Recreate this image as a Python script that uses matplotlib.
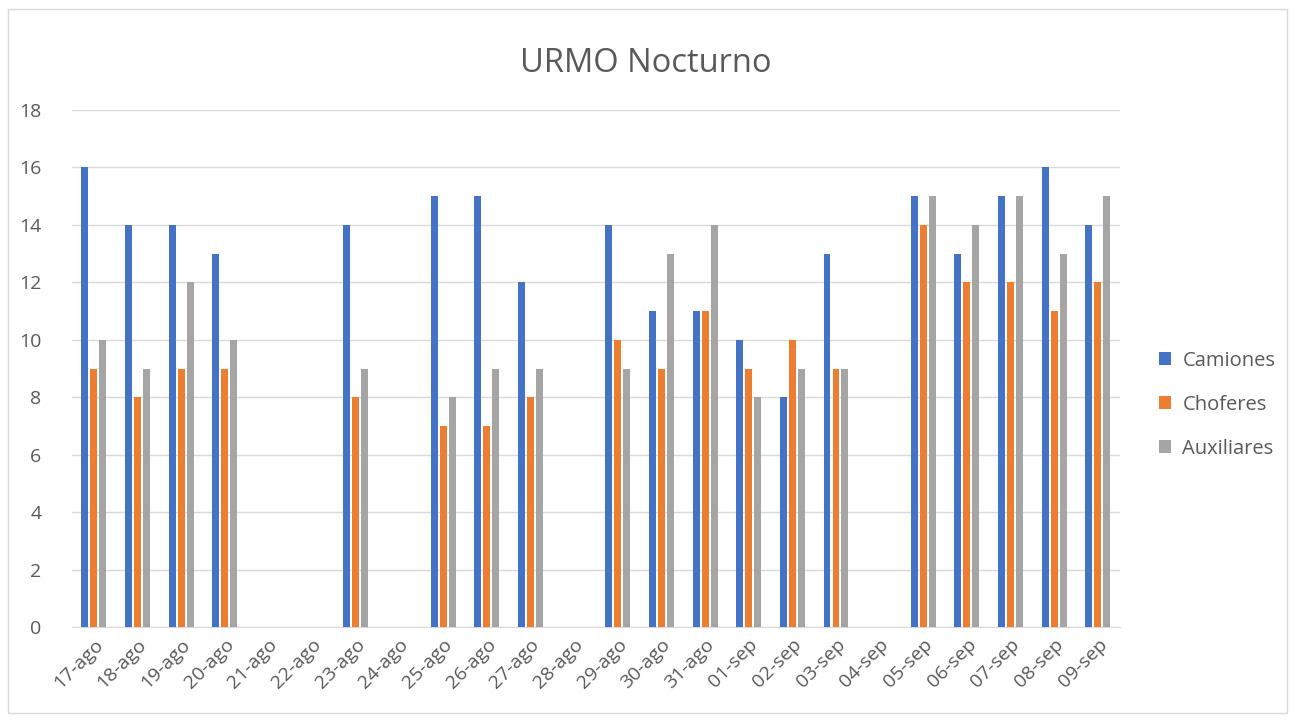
import matplotlib
matplotlib.use("Agg")
import matplotlib.pyplot as plt
import numpy as np
from matplotlib.patches import Rectangle

fechas = ["17-ago", "18-ago", "19-ago", "20-ago", "21-ago", "22-ago", "23-ago", "24-ago",
          "25-ago", "26-ago", "27-ago", "28-ago", "29-ago", "30-ago", "31-ago", "01-sep",
          "02-sep", "03-sep", "04-sep", "05-sep", "06-sep", "07-sep", "08-sep", "09-sep"]
camiones = [16, 14, 14, 13, 0, 0, 14, 0, 15, 15, 12, 0, 14, 11, 11, 10, 8, 13, 0, 15, 13, 15, 16, 14]
choferes = [9, 8, 9, 9, 0, 0, 8, 0, 7, 7, 8, 0, 10, 9, 11, 9, 10, 9, 0, 14, 12, 12, 11, 12]
auxiliares = [10, 9, 12, 10, 0, 0, 9, 0, 8, 9, 9, 0, 9, 13, 14, 8, 9, 9, 0, 15, 14, 15, 13, 15]

series = [("Camiones", camiones, "#4472C4"),
          ("Choferes", choferes, "#ED7D31"),
          ("Auxiliares", auxiliares, "#A5A5A5")]

plt.rcParams['font.family'] = ['Open Sans', 'DejaVu Sans']

fig = plt.figure(figsize=(12.92, 7.22), dpi=100)
fig.patches.append(Rectangle((0.006, 0.012), 0.99, 0.976, transform=fig.transFigure,
                             fill=False, edgecolor="#d9d9d9", linewidth=1))
ax = fig.add_axes([0.0557, 0.1316, 0.811, 0.716])

x = np.arange(len(fechas))
w = 0.16
step = 0.206
for i, (name, vals, col) in enumerate(series):
    ax.bar(x + (i - 1) * step, vals, width=w, color=col, label=name, zorder=3)

ax.set_xlim(-0.5, len(fechas) - 0.5)
ax.set_ylim(0, 18)
ax.set_yticks(range(0, 19, 2))
ax.grid(axis="y", color="#d9d9d9", linewidth=1, zorder=0)
for s in ["top", "right", "left"]:
    ax.spines[s].set_visible(False)
ax.spines["bottom"].set_color("#d9d9d9")
ax.tick_params(axis="both", length=0, labelsize=14, colors="#595959")
ax.tick_params(axis="y", pad=22)
ax.tick_params(axis="x", pad=6)
ax.set_xticks(x)
ax.set_xticklabels(fechas, rotation=45, ha="right", rotation_mode="anchor")

fig.text(0.5, 0.912, "URMO Nocturno", fontsize=23.5, color="#595959", ha="center", va="center")

ax.legend(loc="center left", bbox_to_anchor=(1.03, 0.43), frameon=False, fontsize=14.5,
          handlelength=0.6, handleheight=0.6, handletextpad=0.55, labelspacing=1.2,
          labelcolor="#595959", borderaxespad=0)

fig.savefig("out.png", dpi=100)
